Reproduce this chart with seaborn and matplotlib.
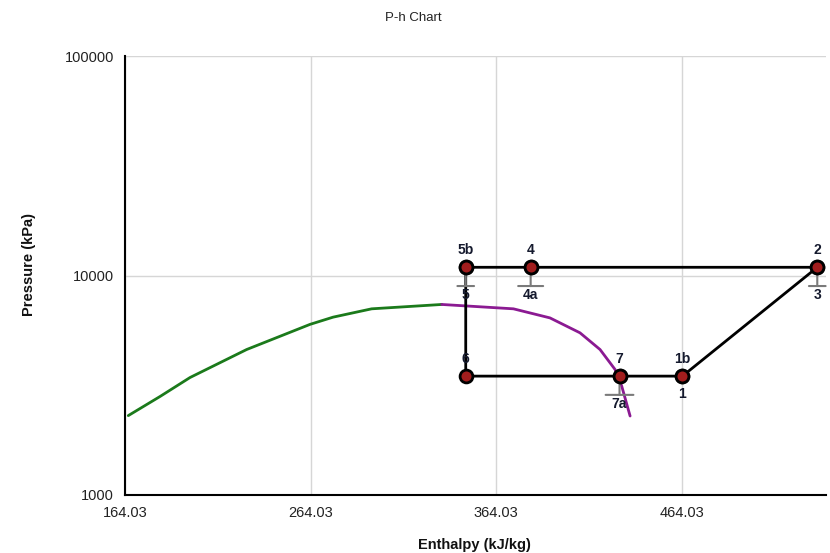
import numpy as np
import pandas as pd
import seaborn as sns
import matplotlib.pyplot as plt
from matplotlib.transforms import offset_copy
from matplotlib.ticker import FixedLocator, FixedFormatter, NullLocator

# Saturated liquid line (enthalpy kJ/kg, pressure kPa)
liq_h = [165.8, 182.9, 199.1, 229.6, 263.8, 276.2, 297.0, 334.8]
liq_p = [2300, 2810, 3430, 4600, 5990, 6460, 7050, 7380]

# Saturated vapour line
vap_h = [334.8, 373.4, 393.1, 409.3, 420.1, 428.2, 431.8, 436.3]
vap_p = [7380, 7050, 6410, 5480, 4600, 3730, 3130, 2290]

# Cycle state points
state_names = ["1", "1b", "2", "3", "4", "4a", "5", "5b", "6", "7", "7a"]
state_h = [464.5, 464.5, 537.2, 537.2, 382.7, 382.7, 347.7, 347.7, 347.7, 430.6, 430.6]
state_p = [3480, 3480, 10900, 10900, 10900, 10900, 10900, 10900, 3480, 3480, 3480]

# Order in which the cycle is traced
cycle_order = ["6", "7", "1b", "2", "4", "5b", "6"]

x_ticks = [164.03, 264.03, 364.03, 464.03]
y_ticks = [1000, 10000, 100000]

sns.set_style("white")
plt.rcParams['font.family'] = ['Liberation Sans', 'DejaVu Sans']

states = pd.DataFrame({"name": state_names, "h": state_h, "p": state_p})
lookup = states.drop_duplicates("name").set_index("name")
cycle = lookup.loc[cycle_order].reset_index()
liq = pd.DataFrame({"h": liq_h, "p": liq_p})
vap = pd.DataFrame({"h": vap_h, "p": vap_p})

fig = plt.figure(figsize=(8.3, 5.53), dpi=100)
ax = fig.add_axes([125 / 830, 1 - 495 / 553, 701 / 830, 439 / 553])
ax.set_yscale("log")
ax.set_xlim(164.03, 541.9)
ax.set_ylim(1000, 100000)

ax.grid(True, color="#d6d6d6", lw=1, zorder=0)

sns.lineplot(data=liq, x="h", y="p", sort=False, estimator=None,
             color="#1b7a1b", lw=2, ax=ax, zorder=2)
sns.lineplot(data=vap, x="h", y="p", sort=False, estimator=None,
             color="#8b1a92", lw=2, ax=ax, zorder=2)
sns.lineplot(data=cycle, x="h", y="p", sort=False, estimator=None,
             color="black", lw=2, ax=ax, zorder=3)

# Callout leaders for overlapping state labels
callouts = {"3": 6, "4a": 9, "5": 6, "7a": 10}
for name, half in callouts.items():
    h, p = lookup.loc[name, "h"], lookup.loc[name, "p"]
    ax.annotate("", xy=(h, p), xytext=(0, -13.5), textcoords="offset points",
                arrowprops=dict(arrowstyle="-", color="#7a7a7a", lw=1.5,
                                shrinkA=0, shrinkB=0), zorder=4)
    left = offset_copy(ax.transData, fig, x=-half, y=-13.5, units="points")
    right = offset_copy(ax.transData, fig, x=half, y=-13.5, units="points")
    ax.annotate("", xy=(h, p), xycoords=left, xytext=(h, p), textcoords=right,
                arrowprops=dict(arrowstyle="-", color="#7a7a7a", lw=1.5,
                                shrinkA=0, shrinkB=0), zorder=4)

sns.scatterplot(data=states, x="h", y="p", s=85, color="#a11d1d",
                edgecolor="black", linewidth=2, ax=ax, zorder=5,
                legend=False, clip_on=False)

# State labels
above = ["1b", "2", "4", "5b", "6", "7"]
for name in state_names:
    h, p = lookup.loc[name, "h"], lookup.loc[name, "p"]
    if name in above:
        dy = 12.6
    elif name == "1":
        dy = -13.0
    else:
        dy = -20.0
    ax.annotate(name, xy=(h, p), xytext=(0, dy), textcoords="offset points",
                ha="center", va="center", fontsize=10, fontweight="bold",
                color="#151a2e", zorder=6)

ax.xaxis.set_major_locator(FixedLocator(x_ticks))
ax.xaxis.set_major_formatter(FixedFormatter([f"{t:.2f}" for t in x_ticks]))
ax.yaxis.set_major_locator(FixedLocator(y_ticks))
ax.yaxis.set_major_formatter(FixedFormatter([str(t) for t in y_ticks]))
ax.yaxis.set_minor_locator(NullLocator())

for side in ["top", "right"]:
    ax.spines[side].set_visible(False)
for side in ["left", "bottom"]:
    ax.spines[side].set_color("black")
    ax.spines[side].set_linewidth(1.5)
ax.tick_params(direction="out", length=6, width=1.2, color="black",
               labelsize=10.5, labelcolor="#222222", pad=2)
ax.set_xlabel("")
ax.set_ylabel("")

fig.text(413 / 830, 1 - 18 / 553, "P-h Chart", ha="center", va="center",
         fontsize=9.5, color="#222222")
fig.text(29 / 830, 1 - 264 / 553, "Pressure (kPa)", rotation=90, ha="center",
         va="center", fontsize=10.5, fontweight="bold", color="#111111")
fig.text(474 / 830, 1 - 545 / 553, "Enthalpy (kJ/kg)", ha="center",
         va="center", fontsize=10.5, fontweight="bold", color="#111111")

fig.savefig("out.png", dpi=100)
